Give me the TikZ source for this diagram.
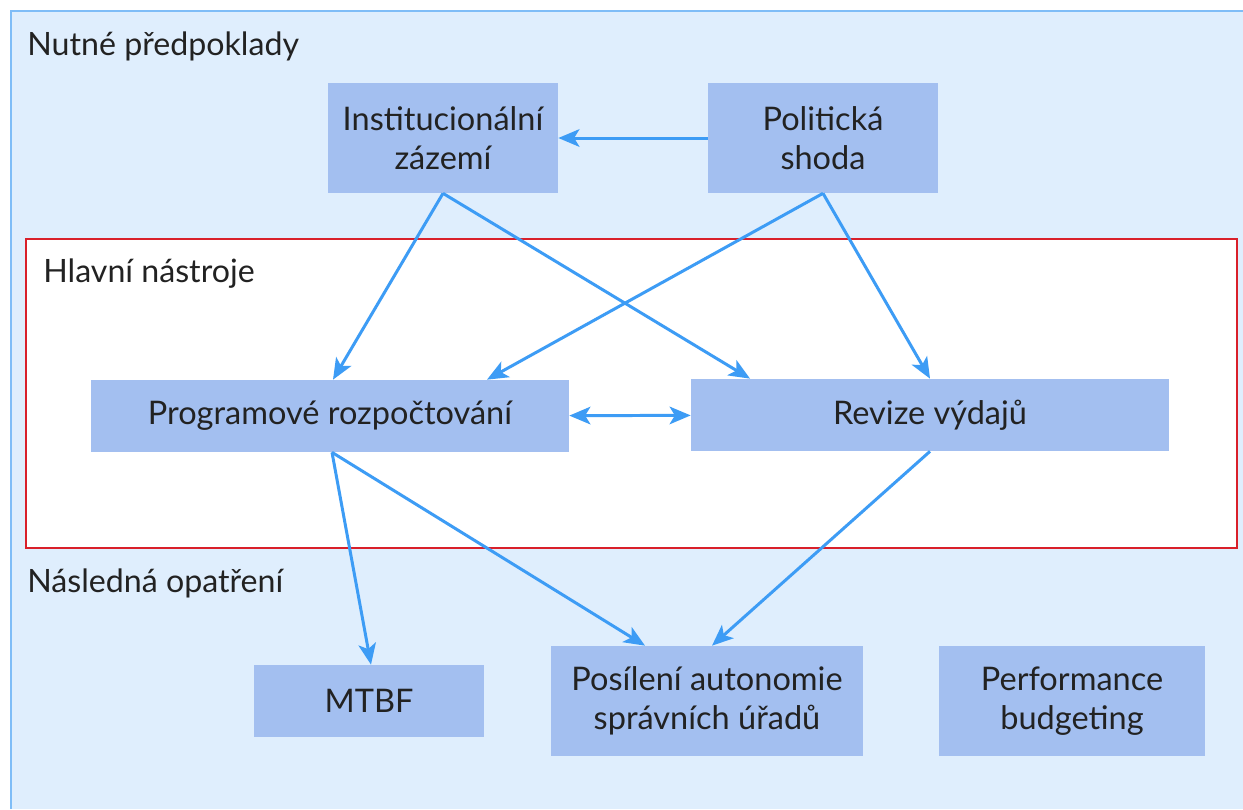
\documentclass[tikz,border=0pt]{standalone}
\usepackage{fontspec}
\setmainfont{Lato}
\usetikzlibrary{arrows.meta}
\usetikzlibrary{positioning}
\definecolor{bgblue}{HTML}{DFEEFD}
\definecolor{edgeblue}{HTML}{7FBDF7}
\definecolor{boxblue}{HTML}{A3BFF0}
\definecolor{arrowblue}{HTML}{3D9CF5}
\definecolor{framered}{HTML}{D9202A}
\definecolor{textgrey}{HTML}{222222}
\tikzset{
  box/.style={rectangle, fill=boxblue, align=center, inner sep=0pt, text=textgrey, font=\fontsize{18.5}{22}\selectfont},
  grouplabel/.style={anchor=west, inner sep=0pt, text=textgrey, font=\fontsize{18.3}{22}\selectfont},
  link/.style={arrowblue, line width=1.7pt, -{Stealth[length=12pt,width=10pt,inset=3pt]}},
  biglink/.style={arrowblue, line width=1.7pt, {Stealth[length=12pt,width=10pt,inset=3pt]}-{Stealth[length=12pt,width=10pt,inset=3pt]}},
}

\begin{document}
\begin{tikzpicture}[x=0.02cm, y=-0.02cm]
            \useasboundingbox (0,0) rectangle (1243,809);
            \fill[bgblue] (11,11) rectangle (1243,809);
            \draw[edgeblue, line width=1pt] (11,809) -- (11,11) -- (1243,11);
            \draw[framered, line width=1pt, fill=white] (26,239) rectangle (1237,548);

            \node[grouplabel] (pred) at (27,46) {Nutné předpoklady};
            \node[grouplabel] (hlav) at (43,274) {Hlavní nástroje};
            \node[grouplabel] (nasl) at (27,583) {Následná opatření};

            \node[box, minimum width=4.6cm, minimum height=2.2cm] (inst) at (443,138) {Institucionální\\zázemí};
            \node[box, minimum width=4.6cm, minimum height=2.2cm] (shoda) at (823,138) {Politická\\shoda};
            \node[box, minimum width=9.56cm, minimum height=1.44cm] (prog) at (330,416) {Programové rozpočtování};
            \node[box, minimum width=9.56cm, minimum height=1.44cm] (rev) at (930,415) {Revize výdajů};
            \node[box, minimum width=4.62cm, minimum height=1.44cm] (mtbf) at (369,701) {MTBF};
            \node[box, minimum width=6.26cm, minimum height=2.2cm] (auto) at (707,701) {Posílení autonomie\\správních úřadů};
            \node[box, minimum width=5.34cm, minimum height=2.2cm] (perf) at (1072,701) {Performance\\budgeting};

            \draw[link] (shoda) -- (inst);
            \draw[link] (inst.south) -- ([xshift=0.06cm]prog.north);
            \draw[link] (inst.south) -- ([xshift=-3.6cm]rev.north);
            \draw[link] (shoda.south) -- ([xshift=3.14cm]prog.north);
            \draw[link] (shoda.south) -- (rev.north);
            \draw[biglink] (prog) -- (rev);
            \draw[link] ([xshift=0.04cm]prog.south) -- ([xshift=0.04cm]mtbf.north);
            \draw[link] ([xshift=0.04cm]prog.south) -- ([xshift=-1.24cm]auto.north);
            \draw[link] (rev.south) -- ([xshift=0.1cm]auto.north);
        \end{tikzpicture}
\end{document}
